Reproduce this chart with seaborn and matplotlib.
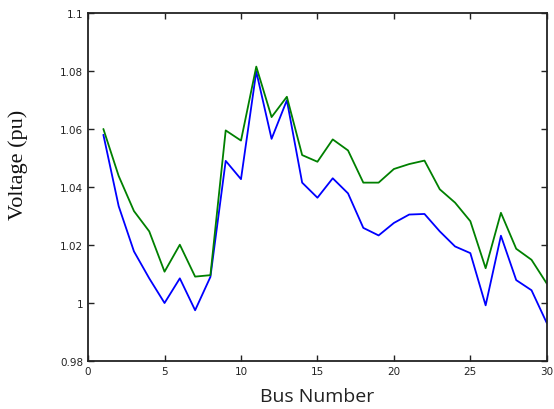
import numpy as np
import pandas as pd
import matplotlib
matplotlib.use("Agg")
import matplotlib.pyplot as plt
import seaborn as sns

# Bus voltage profile
bus = list(range(1, 31))
v_blue = [1.058, 1.0334, 1.0178, 1.0085, 1.0000, 1.0085, 0.9975, 1.009, 1.049, 1.0427,
          1.0798, 1.0566, 1.0699, 1.0415, 1.0363, 1.0430, 1.0378, 1.0259, 1.0233, 1.0276,
          1.0305, 1.0307, 1.0247, 1.0195, 1.0172, 0.9992, 1.0232, 1.0079, 1.0044, 0.9931]
v_green = [1.060, 1.0438, 1.0317, 1.0247, 1.0108, 1.0201, 1.0091, 1.0096, 1.0595, 1.0560,
           1.0815, 1.0641, 1.0711, 1.0510, 1.0487, 1.0564, 1.0526, 1.0415, 1.0415, 1.0462,
           1.0479, 1.0491, 1.0392, 1.0346, 1.0282, 1.0120, 1.0311, 1.0187, 1.0149, 1.0067]

df = pd.DataFrame({"bus": bus + bus,
                   "v": v_blue + v_green,
                   "case": ["blue"] * 30 + ["green"] * 30})

sns.set_style("ticks")
fig = plt.figure(figsize=(5.54, 4.10), dpi=100)
ax = fig.add_axes([0.159, 0.117, 0.828, 0.849])

sns.lineplot(data=df, x="bus", y="v", hue="case",
             palette={"blue": "#0000ff", "green": "#008000"},
             linewidth=1.3, legend=False, ax=ax)

ax.set_xlim(0, 30)
ax.set_ylim(0.98, 1.1)
ax.set_xticks([0, 5, 10, 15, 20, 25, 30])
ax.set_yticks([0.98, 1.0, 1.02, 1.04, 1.06, 1.08, 1.1])
ax.set_yticklabels(["0.98", "1", "1.02", "1.04", "1.06", "1.08", "1.1"])
ax.tick_params(direction="in", top=True, right=True, labelsize=7.5,
               length=4, width=1, colors="#222222")
for s in ax.spines.values():
    s.set_linewidth(1.3)
    s.set_color("#222222")

ax.set_xlabel("Bus Number", fontsize=14, family="Open Sans", color="#222222", labelpad=8)
ax.set_ylabel("Voltage (pu)", fontsize=16, family="Liberation Serif", color="#111111")
# label in the reference sits above the axes centre
ax.yaxis.set_label_coords(-0.132, 0.566)

fig.savefig("out.png", dpi=100)
